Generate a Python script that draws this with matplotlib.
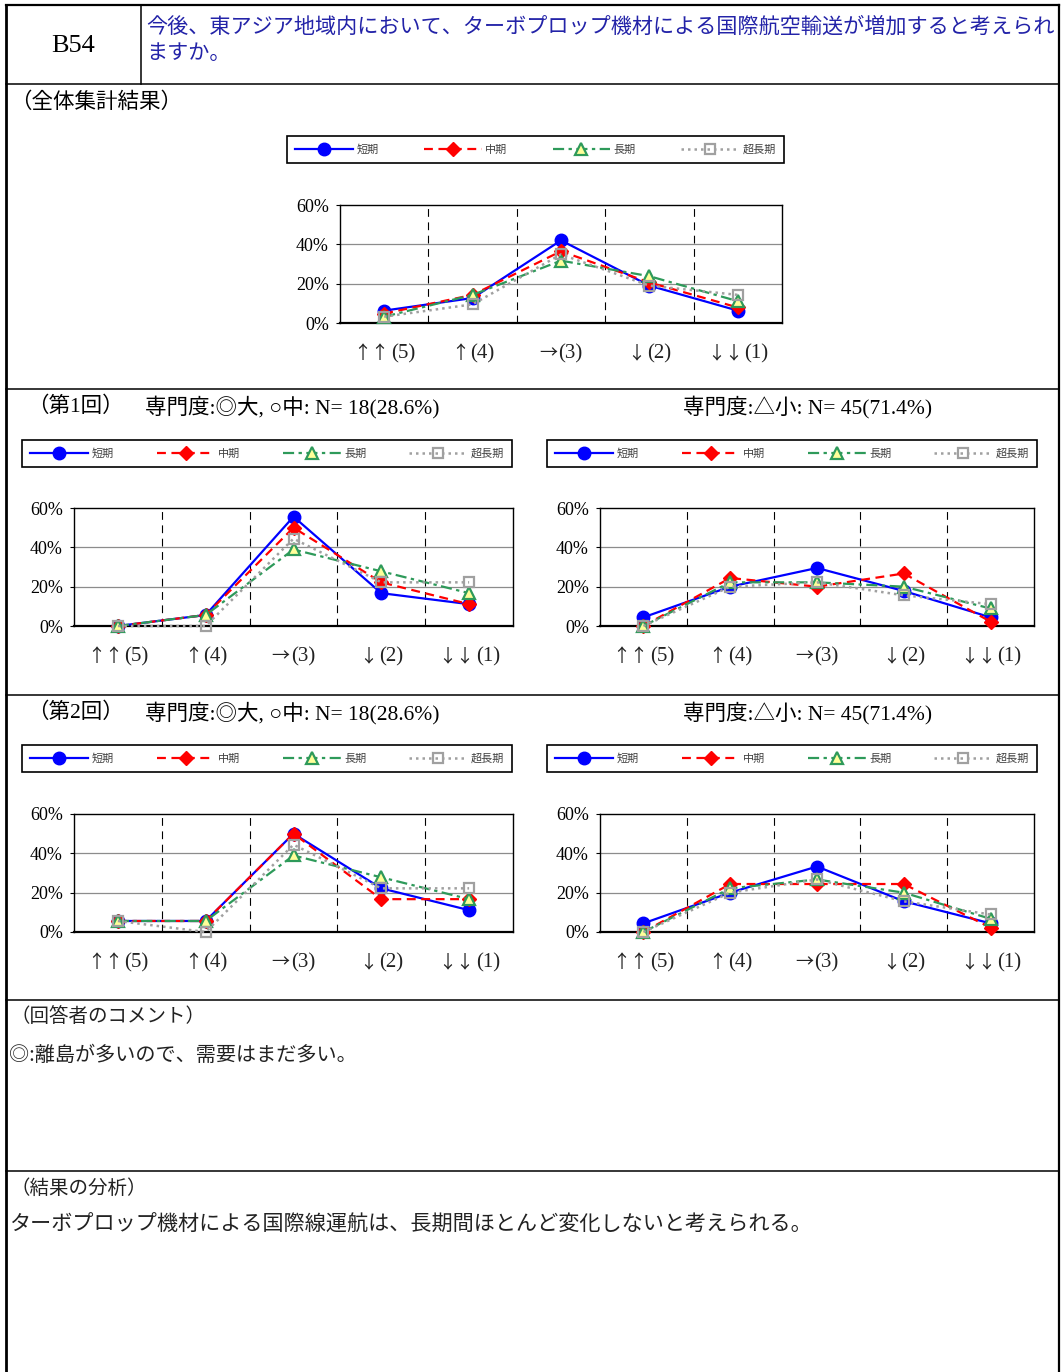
import matplotlib
matplotlib.use("Agg")
import matplotlib.pyplot as plt
from matplotlib.lines import Line2D
from matplotlib.ticker import FixedLocator, FuncFormatter
from matplotlib.offsetbox import TextArea, HPacker, AnnotationBbox

plt.rcParams['font.family'] = ['Liberation Serif', 'Noto Sans CJK JP', 'DejaVu Sans']

# ---------------- data ----------------
categories = ['↑↑(5)', '↑(4)', '→(3)', '↓(2)', '↓↓(1)']
series_names = ['短期', '中期', '長期', '超長期']

all_short = [6.3, 12.7, 42.0, 19.0, 6.3]
all_mid = [4.8, 14.3, 36.5, 20.6, 7.9]
all_long = [3.2, 14.3, 31.7, 23.8, 11.1]
all_super = [3.2, 9.5, 34.9, 19.0, 14.3]

r1_hi_short = [0.0, 5.6, 55.6, 16.7, 11.1]
r1_hi_mid = [0.0, 5.6, 50.0, 22.2, 11.1]
r1_hi_long = [0.0, 5.6, 38.9, 27.8, 16.7]
r1_hi_super = [0.0, 0.0, 44.4, 22.2, 22.2]

r1_lo_short = [4.4, 20.0, 29.5, 17.8, 4.4]
r1_lo_mid = [0.0, 24.4, 20.0, 26.7, 2.2]
r1_lo_long = [0.0, 22.2, 22.2, 20.0, 8.9]
r1_lo_super = [0.0, 20.0, 22.2, 15.6, 11.1]

r2_hi_short = [5.6, 5.6, 50.0, 22.2, 11.1]
r2_hi_mid = [5.6, 5.6, 50.0, 16.7, 16.7]
r2_hi_long = [5.6, 5.6, 38.9, 27.8, 16.7]
r2_hi_super = [5.6, 0.0, 44.4, 22.2, 22.2]

r2_lo_short = [4.4, 20.0, 33.3, 15.6, 4.4]
r2_lo_mid = [0.0, 24.4, 24.4, 24.4, 2.2]
r2_lo_long = [0.0, 22.2, 26.7, 20.0, 6.7]
r2_lo_super = [0.0, 20.0, 26.7, 15.6, 8.9]

y_ticks = [0, 20, 40, 60]

question = '今後、東アジア地域内において、ターボプロップ機材による国際航空輸送が増加すると考えられ\nますか。'
code = 'B54'
overall_title = '（全体集計結果）'
hi_title = '専門度:◎大, ○中: N= 18(28.6%)'
lo_title = '専門度:△小: N= 45(71.4%)'
round_titles = ['（第1回）', '（第2回）']
comment_head = '（回答者のコメント）'
comment_text = '◎:離島が多いので、需要はまだ多い。'
analysis_head = '（結果の分析）'
analysis_text = 'ターボプロップ機材による国際線運航は、長期間ほとんど変化しないと考えられる。'

# ---------------- styles ----------------
styles = [
    dict(color='#0000ff', linestyle='-', marker='o', markersize=9,
         markerfacecolor='#0000ff', markeredgecolor='#0000ff', lw=1.6),
    dict(color='#ff0000', linestyle=(0, (4, 2.5)), marker='D', markersize=7,
         markerfacecolor='#ff0000', markeredgecolor='#ff0000', lw=1.6),
    dict(color='#2e9a5a', linestyle=(0, (5, 2, 1.5, 2)), marker='^', markersize=8.5,
         markerfacecolor='#ffff99', markeredgecolor='#2e9a5a', markeredgewidth=1.6, lw=1.6),
    dict(color='#a0a0a0', linestyle=(0, (1, 1.6)), marker='s', markersize=7.5,
         markerfacecolor='none', markeredgecolor='#a0a0a0', markeredgewidth=1.6, lw=1.8),
]

W, H = 1061, 1372
fig = plt.figure(figsize=(W / 100, H / 100), dpi=100)

def fx(x):
    return x / W

def fy(y):
    return 1 - y / H

def chart(box, legbox, data):
    x0, y0, x1, y1 = box
    ax = fig.add_axes([x0 / W, 1 - y1 / H, (x1 - x0) / W, (y1 - y0) / H])
    xs = list(range(1, len(categories) + 1))
    handles = []
    for vals, st, name in zip(data, styles, series_names):
        h, = ax.plot(xs, vals, label=name, zorder=3, clip_on=False, **st)
        handles.append(h)
    ax.set_xlim(0.5, 5.5)
    ax.set_ylim(0, 60)
    ax.yaxis.set_major_locator(FixedLocator(y_ticks))
    ax.yaxis.set_major_formatter(FuncFormatter(lambda v, p: f'{int(v)}%'))
    for yv in y_ticks[1:-1]:
        ax.axhline(yv, color='#8c8c8c', lw=0.9, zorder=1)
    for xv in [1.5, 2.5, 3.5, 4.5]:
        ax.axvline(xv, color='#000000', lw=0.8, linestyle=(0, (7, 5)), zorder=1)
    ax.set_xticks(xs)
    ax.set_xticklabels([''] * len(xs))
    ax.tick_params(axis='x', length=0)
    ax.tick_params(axis='y', length=3, width=0.8, pad=5, labelsize=13)
    # category labels: arrows (CJK full width) + number (serif)
    for xv, cat in zip(xs, categories):
        i = cat.index('(')
        arr, num = cat[:i], cat[i:]
        pack = HPacker(children=[
            TextArea(arr, textprops=dict(family=['Noto Sans CJK JP'], fontsize=13, color='#222222')),
            TextArea(num, textprops=dict(family=['Liberation Serif'], fontsize=15, color='#222222')),
        ], pad=0, sep=1, align='center')
        ab = AnnotationBbox(pack, (xv, 0), xycoords=ax.get_xaxis_transform(),
                            xybox=(0, -22), boxcoords='offset points',
                            frameon=False, box_alignment=(0.5, 0.5), annotation_clip=False)
        ax.add_artist(ab)
    for s in ax.spines.values():
        s.set_color('black')
        s.set_linewidth(1.0)
    ax.spines['bottom'].set_linewidth(1.6)
    lx0, ly0, lx1, ly1 = legbox
    leg = ax.legend(handles=handles, labels=series_names, ncol=4, loc='center',
                    bbox_to_anchor=(lx0 / W, 1 - ly1 / H, (lx1 - lx0) / W, (ly1 - ly0) / H),
                    bbox_transform=fig.transFigure, mode='expand',
                    handlelength=5.2, handletextpad=0.3, numpoints=1,
                    borderpad=0.75, fancybox=False, frameon=True,
                    prop={'family': ['Noto Sans CJK JP'], 'size': 8},
                    labelcolor='#404040', borderaxespad=0)
    fr = leg.get_frame()
    fr.set_edgecolor('black')
    fr.set_linewidth(1.2)
    fr.set_alpha(1)
    return ax

chart((340, 205, 782, 323), (287, 134, 784, 165), [all_short, all_mid, all_long, all_super])
chart((74, 508, 513, 626), (22, 438, 512, 469), [r1_hi_short, r1_hi_mid, r1_hi_long, r1_hi_super])
chart((600, 508, 1034, 626), (547, 438, 1037, 469), [r1_lo_short, r1_lo_mid, r1_lo_long, r1_lo_super])
chart((74, 814, 513, 932), (22, 743, 512, 774), [r2_hi_short, r2_hi_mid, r2_hi_long, r2_hi_super])
chart((600, 814, 1034, 932), (547, 743, 1037, 774), [r2_lo_short, r2_lo_mid, r2_lo_long, r2_lo_super])

# ---------------- table frame ----------------
def hline(y, x0=6, x1=1059, lw=1.1):
    fig.add_artist(Line2D([fx(x0), fx(x1)], [fy(y), fy(y)], color='black', lw=lw))

def vline(x, y0, y1, lw=1.1):
    fig.add_artist(Line2D([fx(x), fx(x)], [fy(y0), fy(y1)], color='black', lw=lw))

vline(6, 5, 1372, lw=2.0)
vline(1059, 5, 1372, lw=1.6)
hline(5, lw=1.6)
hline(84)
vline(141, 5, 84)
for yy in [389, 695, 1000, 1171]:
    hline(yy)

# ---------------- texts ----------------
fig.text(fx(73), fy(46), code, ha='center', va='center', fontsize=19,
         family=['Liberation Serif'])
fig.text(fx(146), fy(40), question, ha='left', va='center', fontsize=15.2,
         color='#2323a8', family=['Noto Sans CJK JP'], linespacing=1.25)
fig.text(fx(10), fy(103), overall_title, ha='left', va='center', fontsize=15.5)
for yy, rt in zip([407, 713], round_titles):
    fig.text(fx(27), fy(yy), rt, ha='left', va='center', fontsize=15.5)
    fig.text(fx(145), fy(yy), hi_title, ha='left', va='center', fontsize=15.5)
    fig.text(fx(808), fy(yy), lo_title, ha='center', va='center', fontsize=15.5)

fig.text(fx(10), fy(1017), comment_head, ha='left', va='center', fontsize=14,
         family=['Noto Sans CJK JP'], color='#222222')
fig.text(fx(9), fy(1055), comment_text, ha='left', va='center', fontsize=14.5,
         family=['Noto Sans CJK JP'], color='#222222')
fig.text(fx(10), fy(1188), analysis_head, ha='left', va='center', fontsize=14,
         family=['Noto Sans CJK JP'], color='#222222')
fig.text(fx(9), fy(1225), analysis_text, ha='left', va='center', fontsize=15.2,
         family=['Noto Sans CJK JP'], color='#222222')

fig.savefig('out.png', dpi=100, facecolor='white')
